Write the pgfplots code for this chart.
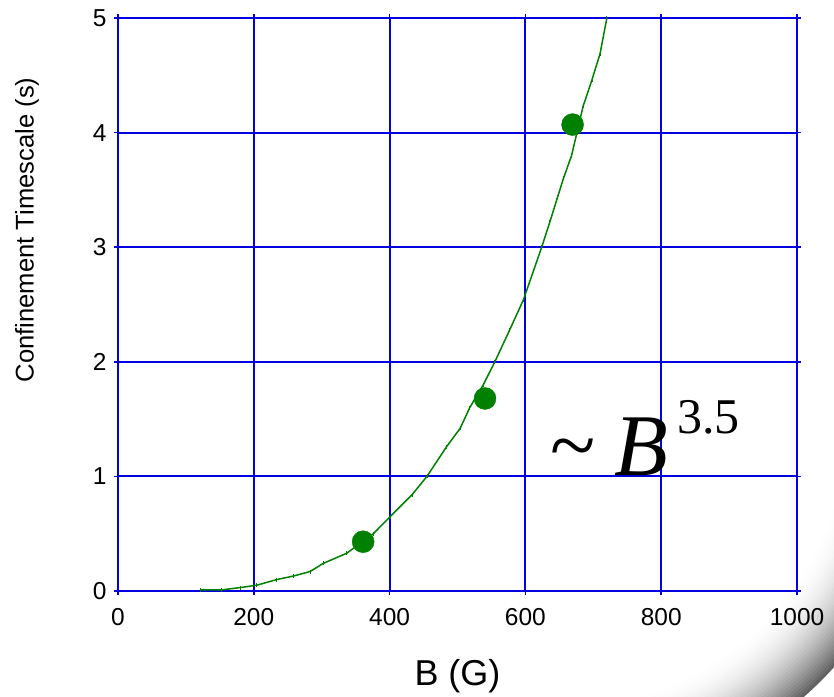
\documentclass[border=0pt]{standalone}
\usepackage{pgfplots}
\pgfplotsset{compat=1.18}
\usepackage{fontspec}
\setmainfont{Liberation Sans}
\newfontfamily\serifB{Liberation Serif}
\definecolor{gblue}{RGB}{0,0,225}
\definecolor{ggreen}{RGB}{0,128,0}
\begin{document}
\begin{tikzpicture}
\useasboundingbox (0,0) rectangle (834bp,697bp);
\begin{scope}
\clip (834bp,300bp) -- (620bp,0bp) -- (834bp,0bp) -- cycle;
\foreach \r in {369,366,...,285}{
  \pgfmathsetmacro\g{max(0,min(62,62*((\r-285)/84)^2))}
  \pgfmathsetmacro\ri{\r-3.4}
  \fill[black!\g, even odd rule] (560bp,277bp) circle (\r bp) (560bp,277bp) circle (\ri bp);
}
\end{scope}
\begin{axis}[
  at={(118bp,106bp)}, anchor=south west,
  scale only axis, width=679bp, height=573bp,
  xmin=0, xmax=1000, ymin=0, ymax=5,
  xtick={0,200,400,600,800,1000}, ytick={0,1,2,3,4,5},
  grid=major, grid style={gblue, line width=2bp},
  axis line style={gblue, line width=2.4bp},
  tick style={gblue, line width=1.5bp}, tick align=outside, major tick length=4bp,
  ticklabel style={font=\fontsize{24.5bp}{24.5bp}\selectfont},
  /pgf/number format/assume math mode=true,
  /pgf/number format/set thousands separator={},
  xticklabel style={yshift=-10bp},
  yticklabel style={xshift=-4bp},
  xlabel={B (G)},
  xlabel style={font=\fontsize{36bp}{36bp}\selectfont, at={(axis description cs:0.5,-0.148)}, anchor=center},
  ylabel={Confinement Timescale (s)},
  ylabel style={font=\fontsize{25.6bp}{25.6bp}\selectfont, at={(axis description cs:-0.134,0.63)}, anchor=center},
  clip=false,
]
\addplot[ggreen, line width=1.5bp, mark=|, mark size=2bp, mark options={line width=0.8bp}] coordinates {
(121,0.01)(153,0.01)(180,0.03)(204,0.05)(234,0.10)(258,0.13)(283,0.17)(302,0.24)
(337,0.33)(376,0.50)(401,0.65)(433,0.84)(455,1.0)(484,1.26)(504,1.42)(518,1.60)
(538,1.80)(555,2.0)(577,2.28)(597,2.54)(624,3.0)(636,3.22)(646,3.41)(656,3.60)
(668,3.80)(685,4.23)(698,4.46)(710,4.69)(720,5.0)};
\addplot[only marks, mark=*, mark size=11bp, ggreen] coordinates {(361,0.43)(540.5,1.68)(669.5,4.07)};
\node[anchor=base west, inner sep=0pt] at (axis cs:636,1.01)
  {\serifB\fontsize{88bp}{88bp}\selectfont\raisebox{0.02em}{\scalebox{0.95}{\textasciitilde}}\hspace{0.22em}\textit{B}\hspace{0.1em}\raisebox{42bp}{\fontsize{50bp}{50bp}\selectfont 3.5}};
\end{axis}
\end{tikzpicture}
\end{document}
